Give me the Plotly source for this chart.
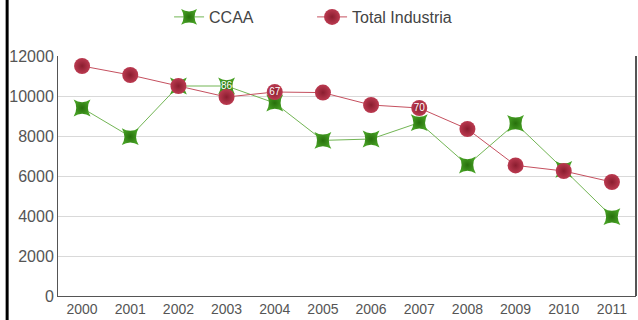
import plotly.graph_objects as go

years = ["2000", "2001", "2002", "2003", "2004", "2005",
         "2006", "2007", "2008", "2009", "2010", "2011"]
ccaa = [9400, 7970, 10500, 10500, 9650, 7780, 7850, 8670, 6550, 8630, 6330, 3970]
total_industria = [11500, 11050, 10500, 9950, 10200, 10170, 9550, 9400, 8350, 6530, 6250, 5700]

# partial value labels shown on a few points
label_years = ["2003", "2004", "2007"]
label_values = [10500, 10200, 9400]
label_texts = ["86", "67", "70"]

font_family = "Liberation Sans, Arial, sans-serif"

fig = go.Figure()

fig.add_trace(go.Scatter(
    x=years, y=ccaa, name="CCAA", mode="lines+markers",
    line=dict(color="#72b554", width=1),
    marker=dict(symbol="star-diamond", angle=45, size=17, color="#46a024",
                gradient=dict(type="radial", color="#27700c"),
                line=dict(width=0)),
))

fig.add_trace(go.Scatter(
    x=years, y=total_industria, name="Total Industria", mode="lines+markers",
    line=dict(color="#c5505f", width=1),
    marker=dict(symbol="circle", size=16, color="#bb3a50",
                gradient=dict(type="radial", color="#8a1d2f"),
                line=dict(width=0)),
))

fig.add_trace(go.Scatter(
    x=label_years, y=label_values, mode="text", text=label_texts,
    textfont=dict(family=font_family, size=10, color="white"),
    showlegend=False, hoverinfo="skip",
))

# thick dark rule along the left edge of the page
fig.add_shape(type="line", xref="paper", yref="paper",
              x0=-0.088, x1=-0.088, y0=-0.2, y1=1.3,
              line=dict(color="black", width=3))

fig.update_layout(
    width=638, height=320,
    margin=dict(l=58, r=2, t=56, b=24),
    paper_bgcolor="white", plot_bgcolor="white",
    font=dict(family=font_family, color="#555555"),
    showlegend=True,
    legend=dict(orientation="h", xref="container", yref="container",
                x=0.265, xanchor="left", y=1.0, yanchor="top",
                font=dict(size=16, color="#444444"),
                itemwidth=30, entrywidth=98, entrywidthmode="pixels",
                traceorder="normal"),
    xaxis=dict(type="category", range=[-0.5, 11.5], showgrid=False,
               showline=True, linecolor="#555555", linewidth=1,
               mirror=False, ticks="", tickfont=dict(size=14, color="#555555"),
               fixedrange=True),
    yaxis=dict(range=[0, 12000], dtick=2000, tickformat="d", showgrid=True,
               gridcolor="#d9d9d9", gridwidth=1, zeroline=False,
               showline=True, linecolor="#555555", linewidth=1,
               ticks="", tickfont=dict(size=16, color="#555555"),
               fixedrange=True),
)

# right border of the plot area
fig.add_shape(type="line", xref="paper", yref="paper",
              x0=1, x1=1, y0=0, y1=1,
              line=dict(color="#555555", width=2))

fig.write_html("out.html")
